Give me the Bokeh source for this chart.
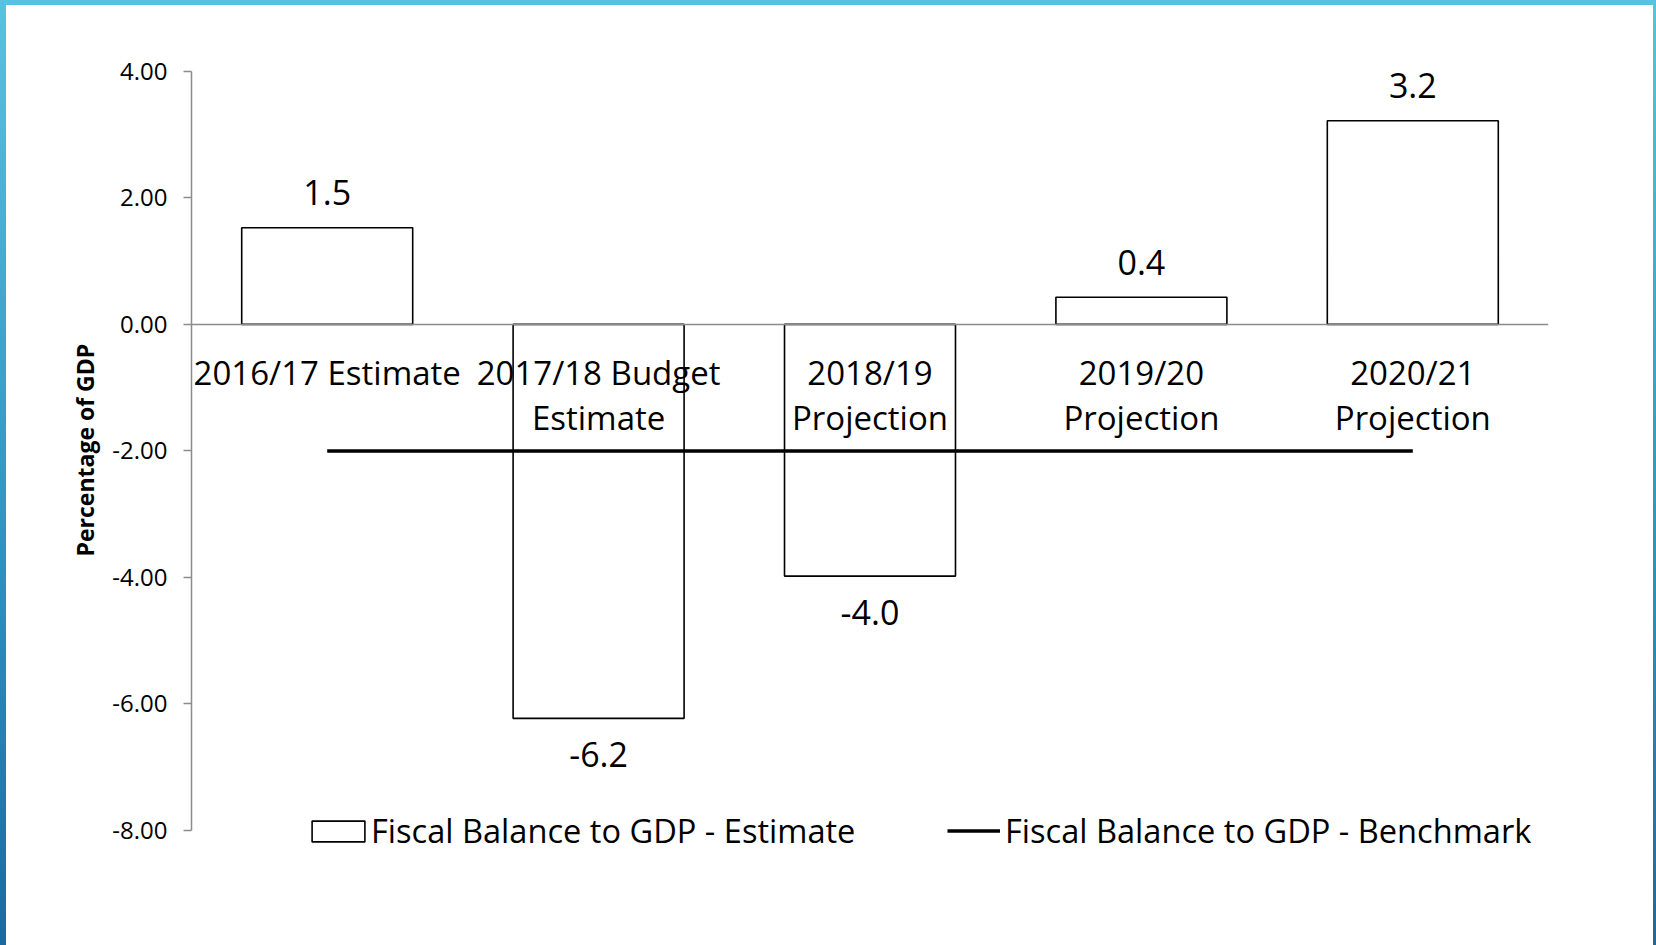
from bokeh.plotting import figure
from bokeh.layouts import column
from bokeh.models import (ColumnDataSource, FactorRange, Range1d, FixedTicker,
                          NumeralTickFormatter, Span, Legend, LegendItem, Title)
from bokeh.core.properties import value
from bokeh.embed import file_html
from bokeh.resources import INLINE

# ---------------- data ----------------
categories = ["2016/17 Estimate", "2017/18 Budget Estimate", "2018/19 Projection",
              "2019/20 Projection", "2020/21 Projection"]
category_labels = ["2016/17 Estimate", "2017/18 Budget\nEstimate", "2018/19\nProjection",
                   "2019/20\nProjection", "2020/21\nProjection"]
estimate = [1.53, -6.23, -3.98, 0.43, 3.22]
estimate_labels = ["1.5", "-6.2", "-4.0", "0.4", "3.2"]
benchmark = [-2.0, -2.0, -2.0, -2.0, -2.0]
y_ticks = [-8, -6, -4, -2, 0, 2, 4]
series_names = ["Fiscal Balance to GDP - Estimate", "Fiscal Balance to GDP - Benchmark"]
y_title = "Percentage of GDP"

FONT = "Open Sans"

src = ColumnDataSource(dict(
    cat=categories,
    est=estimate,
    lab=estimate_labels,
    bench=benchmark,
    catlab=category_labels,
    zero=[0.0] * len(categories),
    off=[-35 if v >= 0 else 36 for v in estimate],
))

p = figure(width=1647, height=940, output_backend="svg", toolbar_location=None,
           x_range=FactorRange(factors=categories, range_padding=0),
           y_range=Range1d(-9, 4),
           min_border_left=185, min_border_right=105,
           min_border_top=66, min_border_bottom=52,
           styles={"background-color": "white"})

p.outline_line_color = None
p.grid.visible = False
p.xaxis.visible = False
p.background_fill_color = "white"
p.border_fill_color = "white"

# y axis
ax = p.yaxis[0]
ax.bounds = (-8, 4)
ax.ticker = FixedTicker(ticks=y_ticks)
ax.formatter = NumeralTickFormatter(format="0.00")
ax.axis_line_color = "#8c8c8c"
ax.axis_line_width = 1.5
ax.major_tick_line_color = "#8c8c8c"
ax.major_tick_line_width = 1.5
ax.major_tick_in = 0
ax.major_tick_out = 8
ax.minor_tick_line_color = None
ax.major_label_standoff = 16
ax.major_label_text_font = FONT
ax.major_label_text_font_size = "24px"
ax.major_label_text_color = "black"

# axis title, centred on the -8..4 span
p.add_layout(Title(text=y_title, align="left", offset=337, standoff=18,
                   text_font=FONT, text_font_size="23px", text_font_style="bold",
                   text_color="black"), "left")

# zero line (horizontal category axis)
p.add_layout(Span(location=0, dimension="width", line_color="#8c8c8c", line_width=1.5))

# bars
bars = p.vbar(x="cat", top="est", bottom=0, width=0.63, source=src,
              fill_color="white", line_color="black", line_width=1.6)

# benchmark line
line = p.line(x="cat", y="bench", source=src, line_color="black", line_width=3.5)

# value labels
p.text(x="cat", y="est", text="lab", y_offset="off", source=src,
       text_align="center", text_baseline="middle",
       text_font=value(FONT), text_font_size="34px", text_color="black")

# category labels next to the zero axis
p.text(x="cat", y="zero", text="catlab", source=src, y_offset=26,
       text_align="center", text_baseline="top", text_line_height=1.0,
       text_font=value(FONT), text_font_size="33px", text_color="black")

# legends
for renderer, name, xloc, gw, gh, st in [(bars, series_names[0], 114, 66, 26, 0),
                                         (line, series_names[1], 756, 53, 21, 5)]:
    lg = Legend(items=[LegendItem(label=name, renderers=[renderer])],
                location=(xloc, 40), orientation="horizontal",
                padding=0, margin=0, spacing=0,
                glyph_width=gw, glyph_height=gh, label_standoff=st,
                label_text_font=FONT, label_text_font_size="32.6px",
                label_text_color="black",
                border_line_color=None, background_fill_alpha=0)
    p.add_layout(lg)

page = column(p, styles={"padding": "5px 3px 0px 6px",
                         "background": "linear-gradient(to bottom, #58c2e2, #2a8cc0 65%, #196aa3)"})

open("out.html", "w").write(file_html(page, INLINE))
